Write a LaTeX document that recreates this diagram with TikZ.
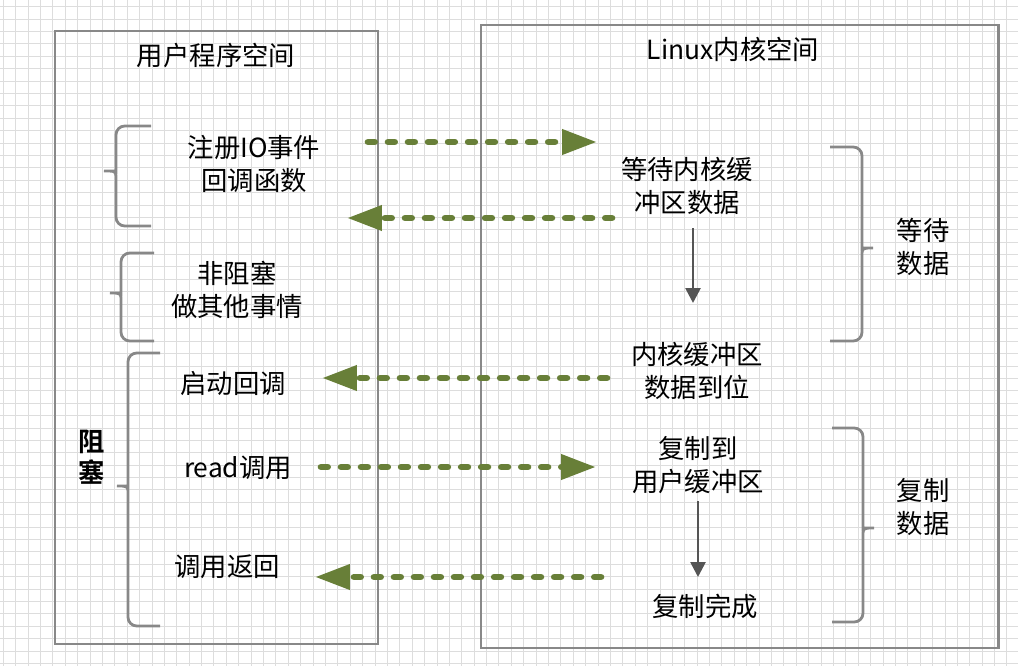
\documentclass[tikz,border=0pt]{standalone}
\usepackage{fontspec}
\setmainfont{Noto Sans CJK SC}[BoldFont={Noto Sans CJK SC Bold}]
\usetikzlibrary{arrows.meta}

\definecolor{callgreen}{RGB}{104,127,56}
\definecolor{framegray}{RGB}{136,136,136}
\definecolor{gridgray}{RGB}{221,221,221}
\definecolor{flowgray}{RGB}{85,85,85}

\tikzset{
  txt/.style={align=center, inner sep=0pt, font=\fontsize{15}{18.8}\selectfont},
  frame/.style={draw=framegray, line width=1.7pt},
  brak/.style={draw=framegray, line width=1.6pt, rounded corners=5pt},
  callarrow/.style={callgreen, line width=3.8pt, line cap=round,
    dash pattern=on 3.8pt off 7.6pt, -{Triangle[length=19.9pt,width=13.7pt]}},
  flow/.style={flowgray, line width=1.5pt, -{Triangle[length=8.5pt,width=8.5pt]}},
}

% brace: end x, line x, tip x, top y, tip y, bottom y
\newcommand{\sidebrak}[6]{%
  \draw[brak] (#1,#4) -- (#2,#4) -- (#2,{#5-8}) [sharp corners]
    .. controls (#2,#5) .. (#3,#5) .. controls (#2,#5) .. (#2,{#5+8})
    [rounded corners=5pt] -- (#2,#6) -- (#1,#6);}

\begin{document}
\begin{tikzpicture}[x=0.02cm, y=-0.02cm]
    \useasboundingbox (0,0) rectangle (1018,666);

    % grid
    \foreach \i in {0,...,81}
        \draw[gridgray, line width=0.5pt] ({3.3+12.39*\i},0) -- ++(0,666);
    \foreach \j in {0,...,53}
        \draw[gridgray, line width=0.5pt] (0,{6.7+12.39*\j}) -- ++(1018,0);

    \draw[frame] (55,31) rectangle (378,644);
    \draw[frame] (481,25) rectangle (998,648);

    \node[txt] (usrtitle) at (216,55) {用户程序空间};
    \node[txt] (krntitle) at (733,49) {Linux内核空间};

    % user side
    \node[txt] (reg) at (254,164) {注册IO事件\\回调函数};
    \node[txt] (nonblk) at (237,290) {非阻塞\\做其他事情};
    \node[txt] (startcb) at (233,383) {启动回调};
    \node[txt] (readcall) at (238,468) {read调用};
    \node[txt] (callret) at (227,567) {调用返回};
    \node[txt, font=\fontsize{15}{17.6}\selectfont\bfseries] (blocked) at (92,457) {阻\\塞};

    \sidebrak{151}{116}{104}{126}{171}{226}
    \sidebrak{154}{121}{110}{253}{293}{341}
    \sidebrak{160}{128}{117}{353}{486}{626}

    % kernel side
    \node[txt] (waitbuf) at (687,186) {等待内核缓\\冲区数据};
    \node[txt] (bufready) at (697,371) {内核缓冲区\\数据到位};
    \node[txt] (copybuf) at (698,465) {复制到\\用户缓冲区};
    \node[txt] (copydone) at (705,606) {复制完成};
    \node[txt] (waitlbl) at (923,247) {等待\\数据};
    \node[txt] (copylbl) at (923,507) {复制\\数据};

    \sidebrak{830}{862}{873}{147}{248}{341}
    \sidebrak{832}{863}{874}{428}{528}{622}

    % arrows
    \coordinate (wait-top) at (693,228);
    \coordinate (wait-bot) at (693,303);
    \coordinate (copy-top) at (698,501);
    \coordinate (copy-bot) at (698,577);
    \draw[flow] (wait-top) -- (wait-bot);
    \draw[flow] (copy-top) -- (copy-bot);

    \coordinate (reg-out) at (368,142);
    \coordinate (reg-in) at (597,142);
    \coordinate (wait-out) at (612,218);
    \coordinate (wait-in) at (347,218);
    \coordinate (ready-out) at (607,378);
    \coordinate (ready-in) at (322,378);
    \coordinate (read-out) at (321,467);
    \coordinate (read-in) at (596,467);
    \coordinate (done-out) at (601,577);
    \coordinate (done-in) at (315,577);
    \draw[callarrow] (reg-out) -- (reg-in);
    \draw[callarrow] (wait-out) -- (wait-in);
    \draw[callarrow] (ready-out) -- (ready-in);
    \draw[callarrow] (read-out) -- (read-in);
    \draw[callarrow] (done-out) -- (done-in);

\end{tikzpicture}
\end{document}
